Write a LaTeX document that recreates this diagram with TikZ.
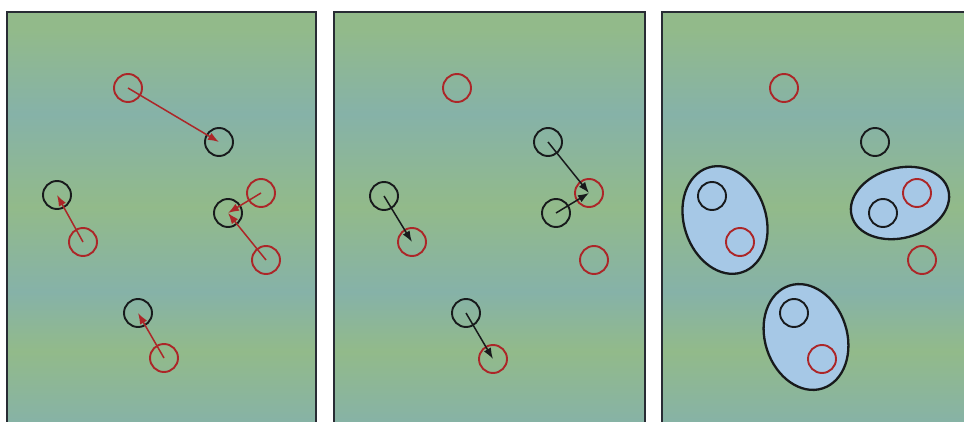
\documentclass[tikz,border=0pt]{standalone}
\usepackage{tikz}
\usetikzlibrary{arrows.meta,shapes.geometric}
\definecolor{fieldGreen}{RGB}{146,186,138}
\definecolor{fieldBlue}{RGB}{134,178,168}
\definecolor{frameGray}{RGB}{40,44,52}
\definecolor{ptRed}{RGB}{172,38,40}
\definecolor{ptBlack}{RGB}{24,26,28}
\definecolor{grpBlue}{RGB}{166,200,230}
\pgfdeclareverticalshading{field}{100bp}{color(0bp)=(fieldBlue); color(26bp)=(fieldBlue);
  color(35bp)=(fieldGreen); color(42bp)=(fieldBlue); color(52bp)=(fieldGreen);
  color(63bp)=(fieldBlue); color(73bp)=(fieldGreen); color(100bp)=(fieldGreen)}
\tikzset{
  pbox/.style={draw=frameGray,line width=1.5pt,shading=field},
  dot/.style={circle,minimum size=28pt,inner sep=0pt,line width=1.9pt},
  rdot/.style={dot,draw=ptRed},
  bdot/.style={dot,draw=ptBlack},
  grp/.style={ellipse,draw=ptBlack,line width=2.3pt,fill=grpBlue,inner sep=0pt},
  rarr/.style={-{Latex[length=11pt,width=8pt]},draw=ptRed,line width=1.5pt},
  barr/.style={-{Latex[length=11pt,width=8pt]},draw=ptBlack,line width=1.5pt},
}

\begin{document}
\begin{tikzpicture}[x=1pt,y=-1pt]
\useasboundingbox (0,0) rectangle (964,422);
\clip (0,0) rectangle (964,422);
\foreach \xa/\xb in {7/316,334/645,662/980}
  \path[pbox] (\xa,12) rectangle (\xb,436);
% panel 1
\node[rdot] (a1) at (128,88) {};
\node[bdot] (a2) at (219,142) {};
\node[bdot] (a3) at (57,195) {};
\node[rdot] (a4) at (83,242) {};
\node[rdot] (a5) at (261,193) {};
\node[bdot] (a6) at (228,213) {};
\node[rdot] (a7) at (266,260) {};
\node[bdot] (a8) at (138,313) {};
\node[rdot] (a9) at (164,358) {};
\draw[rarr] (a1.center) -- (a2.center);
\draw[rarr] (a4.center) -- (a3.center);
\draw[rarr] (a5.center) -- (a6.center);
\draw[rarr] (a7.center) -- (a6.center);
\draw[rarr] (a9.center) -- (a8.center);
% panel 2
\node[rdot] (b1) at (457,88) {};
\node[bdot] (b2) at (548,142) {};
\node[bdot] (b3) at (384,196) {};
\node[rdot] (b4) at (412,242) {};
\node[rdot] (b5) at (589,193) {};
\node[bdot] (b6) at (556,213) {};
\node[rdot] (b7) at (594,260) {};
\node[bdot] (b8) at (466,313) {};
\node[rdot] (b9) at (493,359) {};
\draw[barr] (b2.center) -- (b5.center);
\draw[barr] (b6.center) -- (b5.center);
\draw[barr] (b3.center) -- (b4.center);
\draw[barr] (b8.center) -- (b9.center);
% panel 3
\node[grp,minimum width=82pt,minimum height=110pt,rotate=18] (g1) at (725,220) {};
\node[grp,minimum width=100pt,minimum height=70pt,rotate=15] (g2) at (900,203) {};
\node[grp,minimum width=82pt,minimum height=108pt,rotate=18] (g3) at (806,337) {};
\node[rdot] (c1) at (784,88) {};
\node[bdot] (c2) at (875,142) {};
\node[bdot] (c3) at (712,196) {};
\node[rdot] (c4) at (740,242) {};
\node[rdot] (c5) at (917,193) {};
\node[bdot] (c6) at (883,213) {};
\node[rdot] (c7) at (922,260) {};
\node[bdot] (c8) at (794,313) {};
\node[rdot] (c9) at (822,359) {};
\end{tikzpicture}
\end{document}
